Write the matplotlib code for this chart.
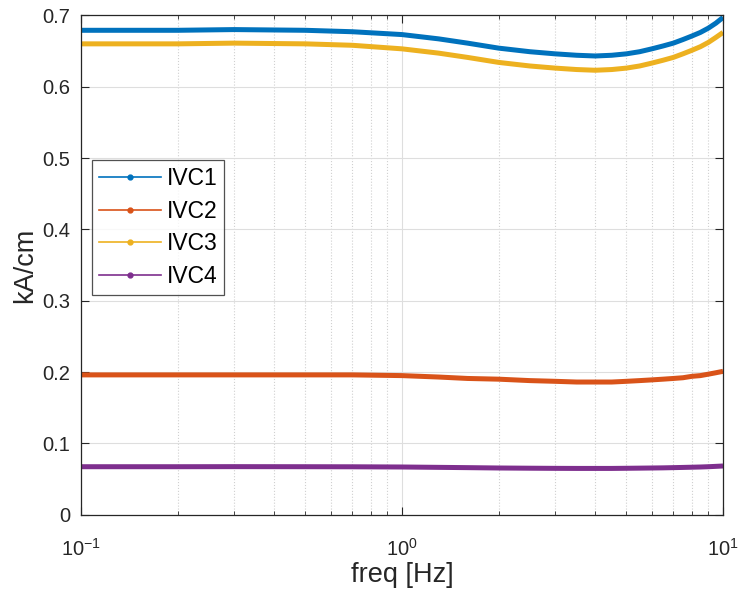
import matplotlib
matplotlib.use('Agg')
import matplotlib.pyplot as plt  # noqa E402
from matplotlib.lines import Line2D  # noqa E402
from matplotlib.ticker import FixedLocator, LogLocator, NullFormatter  # noqa E402

plt.rcParams['font.family'] = ['Liberation Sans', 'DejaVu Sans']
plt.rcParams['mathtext.default'] = 'regular'
plt.rcParams['axes.unicode_minus'] = False

# values
freq = [0.1, 0.2, 0.3, 0.5, 0.7, 1.0, 1.3, 1.6, 2.0, 2.5, 3.0, 3.5, 4.0,
        4.5, 5.0, 5.5, 6.0, 6.5, 7.0, 7.5, 8.0, 8.5, 9.0, 9.5, 10.0]
ivc1 = [0.679, 0.679, 0.680, 0.679, 0.677, 0.673, 0.667, 0.661, 0.654,
        0.649, 0.646, 0.644, 0.643, 0.644, 0.646, 0.649, 0.653, 0.657,
        0.661, 0.666, 0.671, 0.676, 0.682, 0.689, 0.697]
ivc3 = [0.660, 0.660, 0.661, 0.660, 0.658, 0.653, 0.647, 0.641, 0.634,
        0.629, 0.626, 0.624, 0.623, 0.624, 0.626, 0.629, 0.633, 0.637,
        0.641, 0.646, 0.651, 0.656, 0.662, 0.669, 0.676]
ivc2 = [0.196, 0.196, 0.196, 0.196, 0.196, 0.195, 0.193, 0.191, 0.190,
        0.188, 0.187, 0.186, 0.186, 0.186, 0.187, 0.188, 0.189, 0.190,
        0.191, 0.192, 0.194, 0.195, 0.197, 0.199, 0.201]
ivc4 = [0.0673, 0.0673, 0.0674, 0.0673, 0.0672, 0.0669, 0.0664, 0.0660,
        0.0655, 0.0652, 0.0650, 0.0649, 0.0649, 0.0649, 0.0651, 0.0653,
        0.0655, 0.0657, 0.0660, 0.0663, 0.0666, 0.0669, 0.0673, 0.0678,
        0.0683]

names = ['IVC1', 'IVC2', 'IVC3', 'IVC4']
series = [ivc1, ivc2, ivc3, ivc4]
colors = ['#0072BD', '#D95319', '#EDB120', '#7E2F8E']
xtick_vals = [0.1, 1, 10]
xtick_labels = ['$10^{-1}$', '$10^{0}$', '$10^{1}$']
ytick_vals = [0, 0.1, 0.2, 0.3, 0.4, 0.5, 0.6, 0.7]

fig = plt.figure(figsize=(7.38, 5.89), dpi=100)
ax = fig.add_axes([0.1098, 0.1261, 0.8699, 0.8479])

for y, c in zip(series, colors):
    ax.plot(freq, y, color=c, lw=3.6, solid_capstyle='butt')

ax.set_xscale('log')
ax.set_xlim(0.1, 10)
ax.set_ylim(0, 0.7)
ax.xaxis.set_major_locator(FixedLocator(xtick_vals))
ax.set_xticklabels(xtick_labels)
ax.xaxis.set_minor_locator(LogLocator(base=10, subs=range(2, 10)))
ax.xaxis.set_minor_formatter(NullFormatter())
ax.set_yticks(ytick_vals)
ax.set_yticklabels(['%g' % v for v in ytick_vals])

# matlab style grid and box
ax.grid(True, which='major', color='#dedede', lw=0.8)
ax.grid(True, which='minor', axis='x', color='#d0d0d0', lw=0.8, ls=':')
ax.set_axisbelow(True)
for s in ax.spines.values():
    s.set_color('#262626')
    s.set_linewidth(0.9)
ax.tick_params(which='both', direction='in', top=True, right=True,
               colors='#262626', labelsize=14.5)
ax.tick_params(axis='y', pad=8)
ax.tick_params(axis='x', pad=17)
ax.tick_params(which='major', length=6)
ax.tick_params(which='minor', length=3)

ax.set_xlabel('freq [Hz]', fontsize=19.5, color='#262626', labelpad=1)
ax.set_ylabel('kA/cm', fontsize=19.5, color='#262626', labelpad=3)

handles = [Line2D([], [], color=c, lw=1.2, marker='.', markersize=7)
           for c in colors]
leg = ax.legend(handles, names, loc='upper left',
                bbox_to_anchor=(0.017, 0.71), fontsize=16.5, frameon=True,
                fancybox=False, handlelength=2.7, borderpad=0.3,
                borderaxespad=0, labelspacing=0.42, handletextpad=0.25)
leg.get_frame().set_edgecolor('#262626')
leg.get_frame().set_linewidth(0.9)

fig.savefig('out.png')
plt.close(fig)
